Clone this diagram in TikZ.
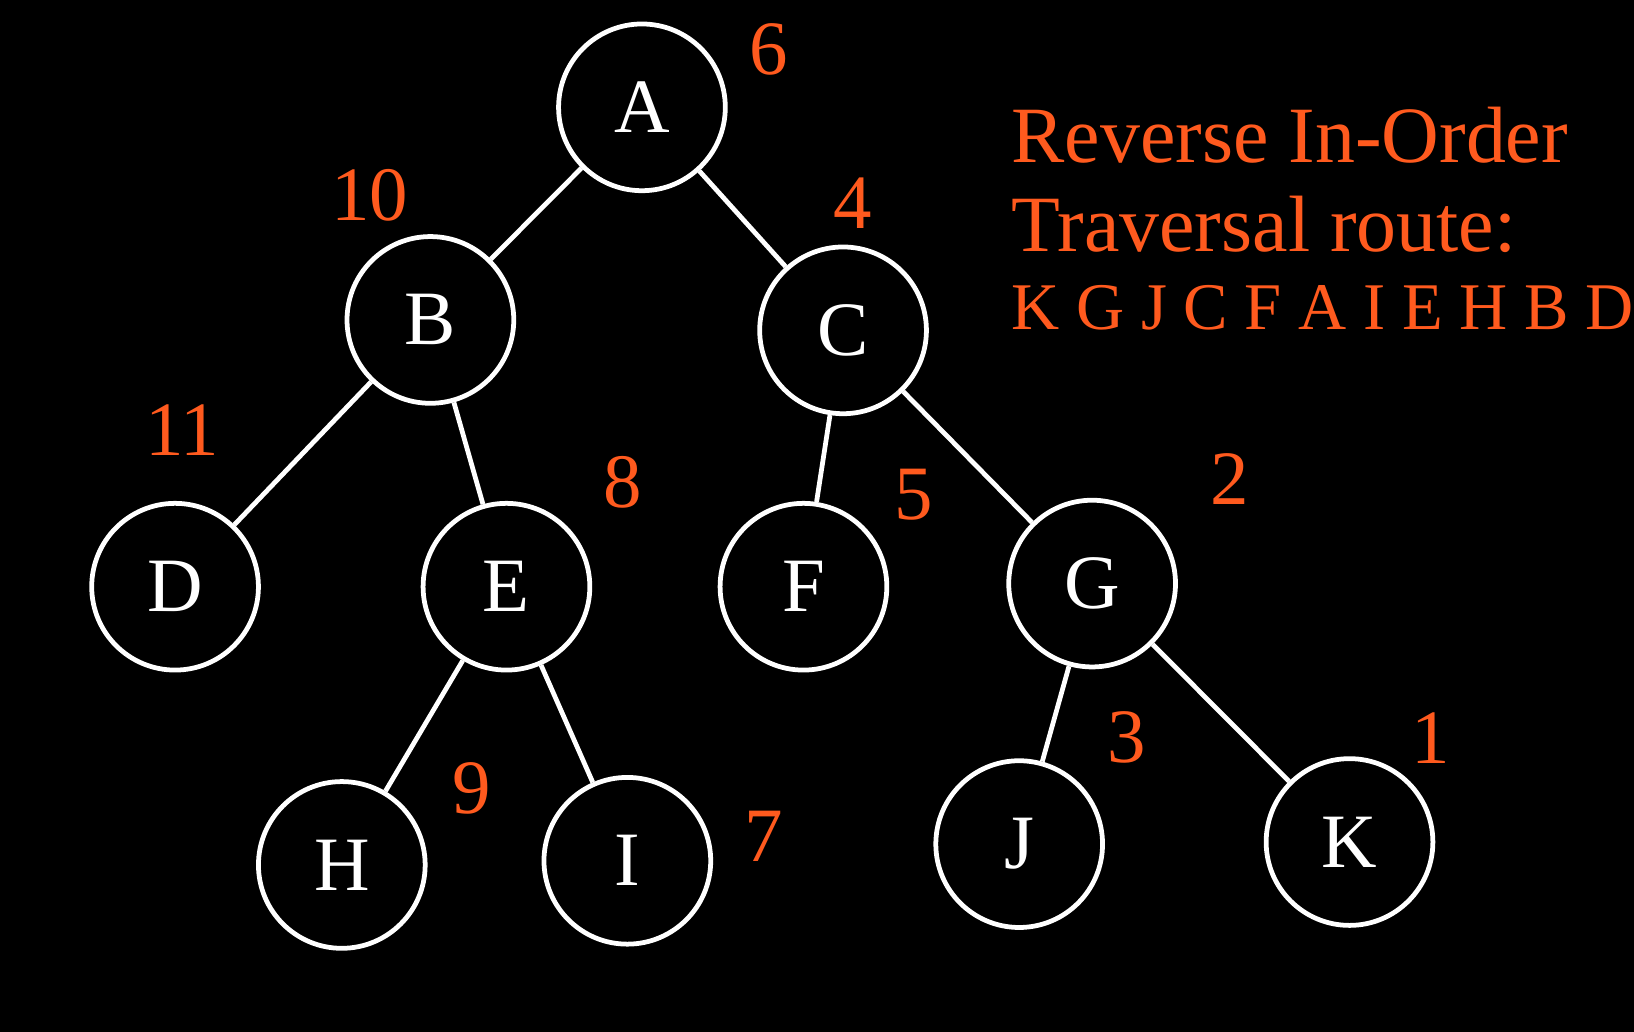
\documentclass[tikz,border=0pt]{standalone}
\usepackage{fontspec}
\setmainfont{Liberation Serif}
\definecolor{org}{HTML}{FF5A1E}
\begin{document}
\begin{tikzpicture}[x=1cm,y=-1cm,
  tn/.style={circle,draw=white,line width=1.3pt,fill=black,minimum size=1.6cm,inner sep=0pt,text=white,font=\fontsize{21}{21}\selectfont},
  num/.style={text=org,font=\fontsize{21}{21}\selectfont},
  edge/.style={draw=white,line width=1.3pt}]
\fill[black] (0,0) rectangle (15.68,9.90);
\useasboundingbox (0,0) rectangle (15.68,9.90);
\node[tn] (A) at (6.16,1.03) {A};
\node[tn] (B) at (4.13,3.07) {B};
\node[tn] (C) at (8.09,3.17) {C};
\node[tn] (D) at (1.68,5.63) {D};
\node[tn] (E) at (4.86,5.63) {E};
\node[tn] (F) at (7.71,5.63) {F};
\node[tn] (G) at (10.48,5.60) {G};
\node[tn] (H) at (3.28,8.30) {H};
\node[tn] (I) at (6.02,8.26) {I};
\node[tn] (J) at (9.78,8.10) {J};
\node[tn] (K) at (12.95,8.08) {K};
\foreach \a/\b in {A/B,A/C,B/D,B/E,C/F,C/G,E/H,E/I,G/J,G/K} \draw[edge] (\a) -- (\b);
\node[num] (n6) at (7.38,0.47) {6};
\node[num] (n10) at (3.55,1.87) {10};
\node[num] (n4) at (8.18,1.95) {4};
\node[num] (n11) at (1.75,4.13) {11};
\node[num] (n8) at (5.98,4.63) {8};
\node[num] (n5) at (8.77,4.75) {5};
\node[num] (n2) at (11.80,4.60) {2};
\node[num] (n9) at (4.53,7.57) {9};
\node[num] (n7) at (7.33,8.03) {7};
\node[num] (n3) at (10.81,7.08) {3};
\node[num] (n1) at (13.73,7.08) {1};
\node[text=org,font=\fontsize{21.8}{21.8}\selectfont,anchor=west,inner sep=0pt] (t1) at (9.70,1.30) {Reverse In-Order};
\node[text=org,font=\fontsize{21.8}{21.8}\selectfont,anchor=west,inner sep=0pt] (t2) at (9.70,2.15) {Traversal route:};
\node[text=org,font=\fontsize{18.2}{18.2}\selectfont,anchor=west,inner sep=0pt] (t3) at (9.70,2.95) {K G J C F A I E H B D};
\end{tikzpicture}
\end{document}
